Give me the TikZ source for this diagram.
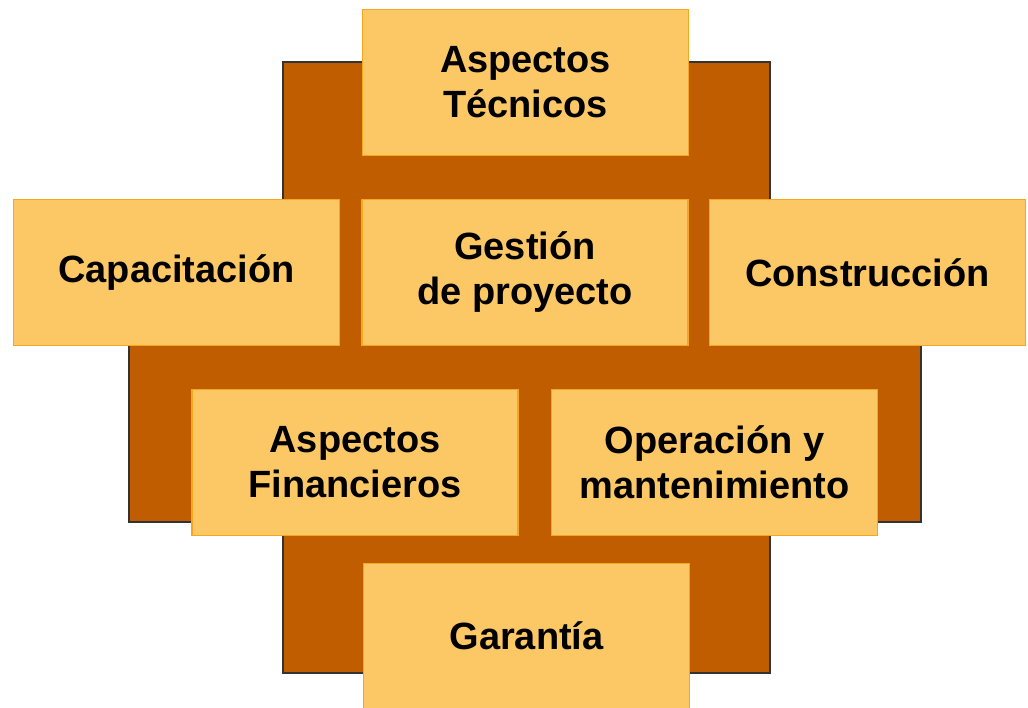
\documentclass[tikz,border=0pt]{standalone}
\usepackage{fontspec}
\setmainfont{Liberation Sans}
\usepackage{tikz}
\usetikzlibrary{positioning}
\definecolor{brownback}{RGB}{192,93,0}
\definecolor{boxfill}{RGB}{252,200,102}
\definecolor{boxline}{RGB}{247,166,30}

\begin{document}
\begin{tikzpicture}
[x=0.025cm, y=-0.025cm,
block/.style={
draw=boxline, fill=boxfill, line width=0.8pt,
minimum width=8.15cm, minimum height=3.63cm,
align=center, inner sep=0pt,
font=\fontsize{27}{32}\selectfont\bfseries}]
\useasboundingbox (0,0) rectangle (1028,708);

% brown cross behind the blocks
\draw[fill=brownback, draw=black!80, line width=0.8pt]
(283,62) -- (770,62) -- (770,250) -- (921,250) -- (921,522) -- (770,522)
-- (770,673) -- (283,673) -- (283,522) -- (129,522) -- (129,250) -- (283,250) -- cycle;

\node (tec) at (525.5,82.5) [block] {Aspectos\\Técnicos};
\node (cap) at (176.5,272.5) [block] {Capacitación};
\node (ges) at (525,272.5) [block] {Gestión\\de proyecto};
\node (con) at (867.5,272.5) [block, minimum width=7.88cm] {Construcción};
\node (fin) at (355,462.5) [block] {Aspectos\\Financieros};
\node (ope) at (714.5,462.5) [block] {Operación y\\mantenimiento};
\node (gar) at (526.5,636) [block] {Garantía};

\end{tikzpicture}
\end{document}
